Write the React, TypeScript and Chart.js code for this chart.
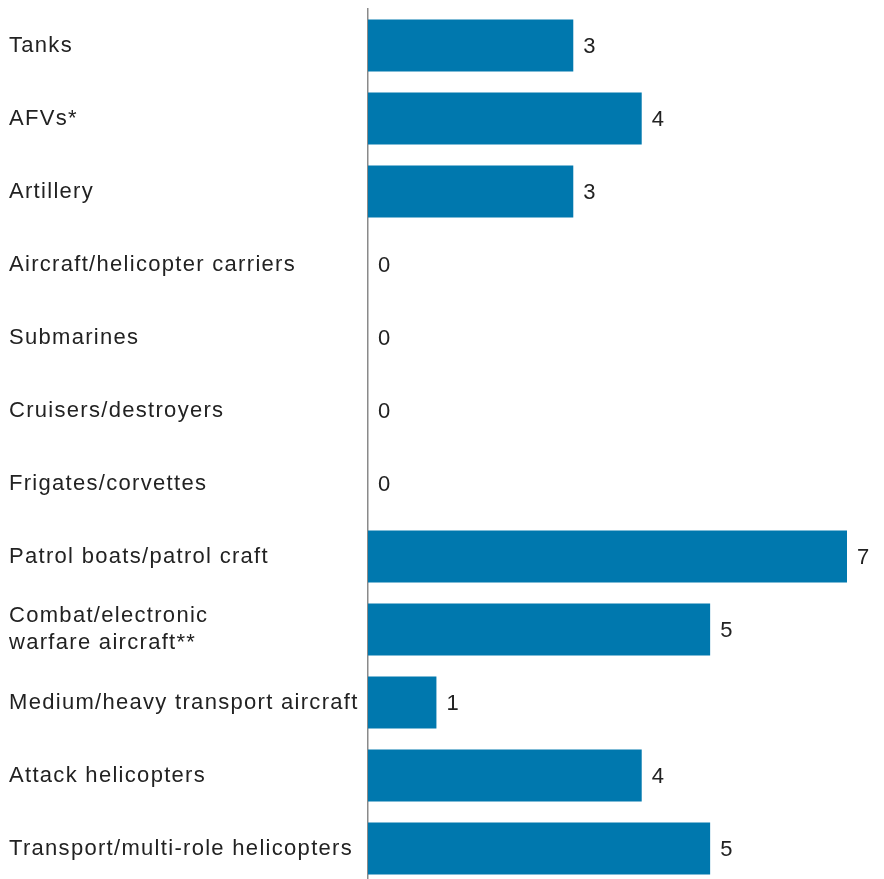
import React, { useEffect, useRef } from "react";
import { Chart, registerables } from "chart.js";

Chart.register(...registerables);

const categories: (string | string[])[] = [
  "Tanks",
  "AFVs*",
  "Artillery",
  "Aircraft/helicopter carriers",
  "Submarines",
  "Cruisers/destroyers",
  "Frigates/corvettes",
  "Patrol boats/patrol craft",
  ["Combat/electronic", "warfare aircraft**"],
  "Medium/heavy transport aircraft",
  "Attack helicopters",
  "Transport/multi-role helicopters",
];

const values: number[] = [3, 4, 3, 0, 0, 0, 0, 7, 5, 1, 4, 5];

const BAR_COLOR = "#0078AE";
const TEXT_COLOR = "#222222";
const FONT_FAMILY = "'Liberation Sans', Arial, Helvetica, sans-serif";
const FONT_SIZE = 22;
const LETTER_SPACING = "1.3px";

const spacingPlugin = {
  id: "spacing",
  beforeDraw(chart: any) {
    (chart.ctx as any).letterSpacing = LETTER_SPACING;
  },
};

const valueLabelPlugin = {
  id: "valueLabels",
  afterDraw(chart: any) {
    const ctx = chart.ctx;
    const meta = chart.getDatasetMeta(0);
    ctx.save();
    (ctx as any).letterSpacing = LETTER_SPACING;
    ctx.font = `${FONT_SIZE}px ${FONT_FAMILY}`;
    ctx.fillStyle = TEXT_COLOR;
    ctx.textAlign = "left";
    ctx.textBaseline = "middle";
    meta.data.forEach((bar: any, i: number) => {
      ctx.fillText(String(values[i]), bar.x + 10, bar.y + 1);
    });
    ctx.restore();
  },
};

export default function App() {
  const ref = useRef<HTMLCanvasElement | null>(null);

  useEffect(() => {
    if (!ref.current) return;
    const chart = new Chart(ref.current, {
      type: "bar",
      data: {
        labels: categories,
        datasets: [
          {
            data: values,
            backgroundColor: BAR_COLOR,
            borderWidth: 0,
            barPercentage: 52 / 73,
            categoryPercentage: 1,
          },
        ],
      },
      options: {
        indexAxis: "y",
        animation: false,
        responsive: false,
        devicePixelRatio: 1,
        layout: { padding: { left: 9, right: 37, top: 9, bottom: 2 } },
        plugins: {
          legend: { display: false },
          tooltip: { enabled: false },
          title: { display: false },
        },
        scales: {
          x: {
            display: false,
            min: 0,
            max: 7,
          },
          y: {
            z: 1,
            grid: { display: false },
            border: { display: true, color: "#8a8a8a", width: 1.5 },
            ticks: {
              crossAlign: "far",
              color: TEXT_COLOR,
              padding: 0,
              font: { family: FONT_FAMILY, size: FONT_SIZE, lineHeight: 1.23 },
            },
            afterFit(scale: any) {
              scale.width = 359;
              scale.paddingTop = 0;
              scale.paddingBottom = 0;
            },
          },
        },
      },
      plugins: [spacingPlugin, valueLabelPlugin],
    } as any);
    return () => chart.destroy();
  }, []);

  return (
    <div
      style={{
        position: "fixed",
        top: 0,
        left: 0,
        width: 884,
        height: 879,
        overflow: "hidden",
        background: "#fff",
      }}
    >
      <canvas ref={ref} width={884} height={887} style={{ width: 884, height: 887, display: "block" }} />
    </div>
  );
}
